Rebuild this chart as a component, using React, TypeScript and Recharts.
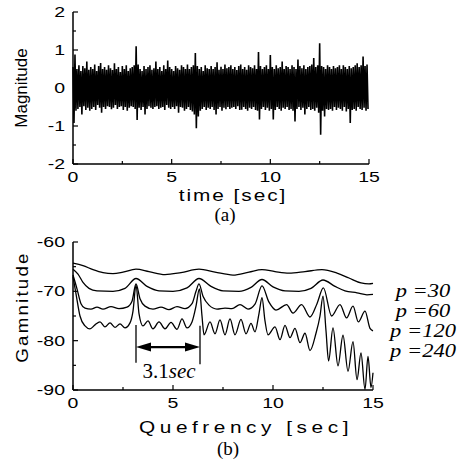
import React from 'react';
import { LineChart, Line, XAxis, YAxis, ReferenceLine } from 'recharts';

// (a) noise signal: upper / lower peaks read every 0.1 s
const noiseUpper = [
  0.55, 0.88, 0.5, 0.6, 0.45, 0.58, 0.52, 0.7, 0.48, 0.55,
  0.5, 0.62, 0.45, 0.58, 0.66, 0.5, 0.55, 0.48, 0.6, 0.52,
  0.47, 0.65, 0.5, 0.55, 0.42, 0.58, 0.5, 0.6, 0.45, 0.52,
  0.55, 0.6, 1.1, 0.62, 0.5, 0.45, 0.58, 0.5, 0.55, 0.6,
  0.48, 0.52, 0.7, 0.5, 0.55, 0.45, 0.6, 0.5, 0.72, 0.55,
  0.5, 0.45, 0.58, 0.52, 0.48, 0.6, 0.55, 0.5, 0.62, 0.5,
  0.55, 0.6, 0.92, 0.58, 0.5, 0.55, 0.45, 0.6, 0.52, 0.5,
  0.58, 0.5, 0.55, 0.68, 0.48, 0.56, 0.5, 0.62, 0.52, 0.55,
  0.6, 0.5, 0.55, 0.47, 0.58, 0.62, 0.5, 0.55, 0.48, 0.6,
  0.55, 0.52, 0.6, 0.5, 0.95, 0.58, 0.5, 0.55, 0.6, 0.5,
  0.87, 0.55, 0.5, 0.6, 0.52, 0.55, 0.7, 0.5, 0.58, 0.55,
  0.5, 0.6, 0.55, 0.5, 0.75, 0.58, 0.52, 0.6, 0.5, 0.55,
  0.58, 0.62, 0.79, 0.55, 0.6, 1.18, 0.58, 0.55, 0.5, 0.6,
  0.55, 0.5, 0.58, 0.52, 0.55, 0.6, 0.5, 0.6, 0.55, 0.5,
  0.58, 0.52, 0.55, 0.6, 0.65, 0.55, 0.6, 0.83, 0.58, 0.62,
];
const noiseLower = [
  -0.92, -0.6, -0.55, -0.5, -0.7, -0.48, -0.58, -0.52, -0.6, -0.55,
  -0.5, -0.58, -0.45, -0.52, -0.65, -0.5, -0.55, -0.48, -0.5, -0.56,
  -0.52, -0.45, -0.55, -0.5, -0.48, -0.58, -0.5, -0.6, -0.52, -0.48,
  -0.5, -0.55, -0.84, -0.52, -0.58, -0.5, -0.7, -0.55, -0.48, -0.52,
  -0.55, -0.5, -0.48, -0.55, -0.52, -0.5, -0.58, -0.45, -0.52, -0.55,
  -0.5, -0.55, -0.48, -0.65, -0.5, -0.52, -0.6, -0.55, -0.5, -0.58,
  -0.62, -0.7, -1.06, -0.75, -0.6, -0.55, -0.5, -0.58, -0.52, -0.55,
  -0.5, -0.58, -0.7, -0.55, -0.5, -0.6, -0.52, -0.56, -0.5, -0.55,
  -0.52, -0.5, -0.55, -0.48, -0.58, -0.57, -0.5, -0.55, -0.6, -0.52,
  -0.55, -0.5, -0.58, -0.6, -0.83, -0.55, -0.5, -0.58, -0.52, -0.6,
  -0.55, -0.83, -0.58, -0.5, -0.55, -0.6, -0.52, -0.55, -0.5, -0.58,
  -0.55, -0.6, -0.88, -0.55, -0.5, -0.58, -0.52, -0.7, -0.55, -0.5,
  -0.58, -0.55, -0.6, -0.52, -0.65, -1.23, -0.6, -0.75, -0.55, -0.58,
  -0.55, -0.6, -0.5, -0.58, -0.52, -0.55, -0.6, -0.5, -0.62, -0.55,
  -0.92, -0.58, -0.55, -0.6, -0.5, -0.55, -0.58, -0.52, -0.6, -0.55,
];
const sampleStep = 0.1;

// (b) cepstrum curves, [quefrency, gamnitude]
const p30: [number, number][] = [
  [0, -64.3], [0.5, -64.8], [1.0, -65.6], [1.5, -66.2], [2.0, -66.4], [2.5, -66.1],
  [3.15, -65.5], [3.8, -66.0], [4.6, -66.6], [5.4, -66.2], [6.3, -65.5], [7.1, -66.1],
  [8.0, -66.7], [8.8, -66.1], [9.45, -65.6], [10.1, -66.0], [10.8, -66.3], [11.6, -66.0],
  [12.45, -65.6], [13.2, -66.3], [13.8, -67.3], [14.4, -68.3], [14.8, -68.5], [15, -68.4],
];
const p60: [number, number][] = [
  [0, -65.5], [0.25, -66.5], [0.5, -68.2], [0.8, -69.4], [1.2, -69.9], [2.0, -70.0],
  [2.6, -69.4], [3.15, -67.4], [3.7, -69.0], [4.3, -69.9], [5.0, -70.0], [5.7, -69.3],
  [6.3, -67.4], [6.9, -69.0], [7.5, -69.9], [8.3, -70.0], [8.9, -69.2], [9.45, -67.6],
  [10.0, -69.1], [10.6, -69.9], [11.3, -70.0], [11.9, -69.4], [12.5, -67.7], [13.1, -69.0],
  [13.6, -69.9], [14.2, -70.3], [14.7, -70.7], [15, -70.6],
];
const p120: [number, number][] = [
  [0, -66.7], [0.2, -69.5], [0.4, -72.5], [0.6, -73.4], [0.9, -73.6], [1.2, -73.2],
  [1.5, -73.6], [1.9, -73.1], [2.3, -73.5], [2.7, -73.2], [2.95, -72.0], [3.15, -68.5],
  [3.35, -71.5], [3.6, -73.0], [4.0, -73.6], [4.4, -73.2], [4.8, -73.7], [5.2, -73.1],
  [5.6, -73.5], [5.95, -72.5], [6.15, -70.0], [6.3, -68.5], [6.5, -71.0], [6.8, -72.8],
  [7.2, -73.6], [7.6, -73.4], [7.95, -73.5], [8.35, -72.7], [8.75, -73.6], [9.1, -72.6],
  [9.45, -68.9], [9.8, -72.2], [10.15, -73.8], [10.68, -72.7], [11.0, -74.4], [11.43, -72.7],
  [11.85, -75.2], [12.2, -72.5], [12.52, -69.3], [12.93, -75.0], [13.35, -72.7], [13.68, -75.4],
  [14.0, -73.0], [14.27, -76.2], [14.6, -74.0], [14.85, -77.5], [15, -78.0],
];
const p240: [number, number][] = [
  [0, -67.0], [0.15, -70.5], [0.35, -75.0], [0.6, -77.0], [0.85, -77.6], [1.1, -76.8],
  [1.35, -76.2], [1.6, -77.2], [1.85, -76.4], [2.1, -77.3], [2.35, -76.6], [2.6, -77.4],
  [2.85, -76.4], [3.0, -74.0], [3.15, -68.7], [3.3, -74.5], [3.5, -77.0], [3.75, -76.0],
  [4.0, -77.6], [4.3, -76.2], [4.6, -77.6], [4.9, -76.3], [5.2, -77.7], [5.45, -75.6],
  [5.7, -77.4], [5.95, -76.2], [6.15, -73.0], [6.32, -69.5], [6.45, -75.0], [6.55, -78.8],
  [6.85, -76.2], [7.1, -78.6], [7.35, -75.8], [7.6, -78.8], [7.85, -75.6], [8.1, -78.8],
  [8.4, -75.7], [8.65, -78.6], [8.9, -76.5], [9.1, -78.2], [9.3, -74.5], [9.45, -71.3],
  [9.6, -76.0], [9.75, -78.8], [10.1, -77.2], [10.35, -79.8], [10.6, -76.9], [10.85, -79.4],
  [11.1, -77.5], [11.35, -80.4], [11.6, -78.5], [11.85, -82.0], [12.15, -78.5], [12.35, -75.0],
  [12.5, -71.0], [12.65, -78.0], [12.78, -84.1], [13.0, -77.4], [13.25, -85.1], [13.5, -78.9],
  [13.75, -86.2], [14.0, -80.2], [14.2, -87.9], [14.4, -82.5], [14.6, -89.9], [14.75, -83.2],
  [14.9, -89.5], [15, -86.5],
];
const curveNames = ['p =30', 'p =60', 'p =120', 'p =240'];

const timeTicks = [0, 2.5, 5, 7.5, 10, 12.5, 15];
const timeLabels = [0, 5, 10, 15];
const magTicks = [-2, -1.5, -1, -0.5, 0, 0.5, 1, 1.5, 2];
const magLabels = [-2, -1, 0, 1, 2];
const gamTicks = [-90, -85, -80, -75, -70, -65, -60];
const gamLabels = [-90, -80, -70, -60];

// annotation: period between the first two peaks
const periodStart = 3.15;
const periodEnd = 6.35;
const arrowLevel = -81.3;

const signal = noiseUpper.flatMap((u, i) => [
  { t: i * sampleStep, v: u },
  { t: i * sampleStep + sampleStep / 2, v: noiseLower[i] },
]);
const toPoints = (arr: [number, number][]) => arr.map(([q, g]) => ({ q, g }));

const SANS = '"Liberation Sans", Arial, sans-serif';
const SERIF = '"Liberation Serif", "Times New Roman", serif';

const makeBottomTick = (labels: number[]) => (props: any) => {
  const { x, y, payload } = props;
  const major = labels.includes(payload.value);
  return (
    <g>
      <line x1={x} y1={y} x2={x} y2={y - (major ? 5 : 3)} stroke="#000" strokeWidth={1.2} />
      {major && (
        <text transform={`translate(${x},${y + 18}) scale(1.3,1)`} textAnchor="middle" fontFamily={SANS} fontSize={15} fill="#000">
          {payload.value}
        </text>
      )}
    </g>
  );
};
const makeLeftTick = (labels: number[]) => (props: any) => {
  const { x, y, payload } = props;
  const major = labels.includes(payload.value);
  return (
    <g>
      <line x1={x} y1={y} x2={x + (major ? 5 : 3)} y2={y} stroke="#000" strokeWidth={1.2} />
      {major && (
        <text transform={`translate(${x - 8},${y + 5}) scale(1.3,1)`} textAnchor="end" fontFamily={SANS} fontSize={15} fill="#000">
          {payload.value}
        </text>
      )}
    </g>
  );
};
const topTick = (props: any) => (
  <line x1={props.x} y1={props.y} x2={props.x} y2={props.y + 3} stroke="#000" strokeWidth={1} />
);
const rightTick = (props: any) => (
  <line x1={props.x} y1={props.y} x2={props.x - 3} y2={props.y} stroke="#000" strokeWidth={1} />
);

const ArrowShape = (props: any) => {
  const { x1, y1, x2, y2 } = props;
  const h = 15;
  const w = 4.5;
  return (
    <g>
      <line x1={x1 + h} y1={y1} x2={x2 - h} y2={y2} stroke="#000" strokeWidth={2.2} />
      <polygon points={`${x1},${y1} ${x1 + h},${y1 - w} ${x1 + h},${y1 + w}`} fill="#000" />
      <polygon points={`${x2},${y2} ${x2 - h},${y2 - w} ${x2 - h},${y2 + w}`} fill="#000" />
    </g>
  );
};

function Text({ x, y, children, size = 16, family = SANS, italic = false, rotate = 0, sx = 1, spacing = 0, lh = 1 }: any) {
  return (
    <div
      style={{
        position: 'absolute',
        left: x,
        top: y,
        transform: `translate(-50%, -50%) rotate(${rotate}deg) scaleX(${sx})`,
        fontFamily: family,
        fontSize: size,
        fontStyle: italic ? 'italic' : 'normal',
        letterSpacing: spacing,
        whiteSpace: 'nowrap',
        lineHeight: lh,
        color: '#000',
      }}
    >
      {children}
    </div>
  );
}

const axisStroke = { stroke: '#000', strokeWidth: 1.5 };

export default function App() {
  return (
    <div style={{ position: 'absolute', left: 0, top: 0, width: 467, height: 464, background: '#fff', overflow: 'hidden' }}>
      <div style={{ position: 'absolute', left: 0, top: 0 }}>
        <LineChart width={467} height={230} data={signal} margin={{ top: 12, right: 98, bottom: 36, left: 13 }}>
          <XAxis xAxisId="b" dataKey="t" type="number" domain={[0, 15]} ticks={timeTicks} interval={0} tickSize={0} tickMargin={0} height={30} axisLine={axisStroke} tickLine={false} tick={makeBottomTick(timeLabels)} />
          <XAxis xAxisId="t" orientation="top" type="number" domain={[0, 15]} ticks={timeTicks} interval={0} tickSize={0} tickMargin={0} height={0} axisLine={axisStroke} tickLine={false} tick={topTick} />
          <YAxis yAxisId="l" type="number" domain={[-2, 2]} ticks={magTicks} interval={0} tickSize={0} tickMargin={0} width={60} axisLine={axisStroke} tickLine={false} tick={makeLeftTick(magLabels)} />
          <YAxis yAxisId="r" orientation="right" type="number" domain={[-2, 2]} ticks={magTicks} interval={0} tickSize={0} tickMargin={0} width={0} axisLine={axisStroke} tickLine={false} tick={rightTick} />
          <Line xAxisId="b" yAxisId="l" dataKey="v" type="linear" stroke="#000" strokeWidth={1.6} dot={false} isAnimationActive={false} />
        </LineChart>
      </div>

      <div style={{ position: 'absolute', left: 0, top: 230 }}>
        <LineChart width={467} height={234} margin={{ top: 12, right: 94, bottom: 44, left: 13 }}>
          <XAxis xAxisId="b" dataKey="q" type="number" domain={[0, 15]} ticks={timeTicks} interval={0} tickSize={0} tickMargin={0} height={30} axisLine={axisStroke} tickLine={false} tick={makeBottomTick(timeLabels)} />
          <XAxis xAxisId="t" orientation="top" type="number" domain={[0, 15]} ticks={timeTicks} interval={0} tickSize={0} tickMargin={0} height={0} axisLine={axisStroke} tickLine={false} tick={topTick} />
          <YAxis yAxisId="l" type="number" domain={[-90, -60]} ticks={gamTicks} interval={0} tickSize={0} tickMargin={0} width={60} axisLine={axisStroke} tickLine={false} tick={makeLeftTick(gamLabels)} allowDataOverflow />
          <YAxis yAxisId="r" orientation="right" type="number" domain={[-90, -60]} ticks={gamTicks} interval={0} tickSize={0} tickMargin={0} width={0} axisLine={axisStroke} tickLine={false} tick={rightTick} />
          {[p30, p60, p120, p240].map((s, i) => (
            <Line key={curveNames[i]} name={curveNames[i]} xAxisId="b" yAxisId="l" data={toPoints(s)} dataKey="g" type="monotone" stroke="#000" strokeWidth={1.3} dot={false} isAnimationActive={false} />
          ))}
          <ReferenceLine xAxisId="b" yAxisId="l" segment={[{ x: periodStart, y: -76.8 }, { x: periodStart, y: -84.5 }]} stroke="#000" strokeWidth={1.3} />
          <ReferenceLine xAxisId="b" yAxisId="l" segment={[{ x: periodEnd, y: -77 }, { x: periodEnd, y: -84.8 }]} stroke="#000" strokeWidth={1.3} />
          <ReferenceLine xAxisId="b" yAxisId="l" segment={[{ x: periodStart, y: arrowLevel }, { x: periodEnd, y: arrowLevel }]} shape={ArrowShape} />
        </LineChart>
      </div>

      <Text x={21} y={88} size={17} rotate={-90} sx={1.0}>Magnitude</Text>
      <Text x={233} y={196} size={16} sx={1.3} spacing={1.5}>time [sec]</Text>
      <Text x={225} y={214} size={19} family={SERIF}>(a)</Text>

      <Text x={22} y={307} size={17} rotate={-90} sx={1.1} spacing={2}>Gamnitude</Text>
      <Text x={246} y={428} size={16} sx={1.3} spacing={3.5}>Quefrency [sec]</Text>
      <Text x={228} y={448} size={19} family={SERIF}>(b)</Text>

      <Text x={169} y={371} size={21} family={SERIF}>3.1<i>sec</i></Text>

      {curveNames.map((n, i) => (
        <Text key={n} x={423} y={291 + i * 20} size={18} lh={1} sx={1.25} family={SERIF} italic>{n}</Text>
      ))}
    </div>
  );
}
